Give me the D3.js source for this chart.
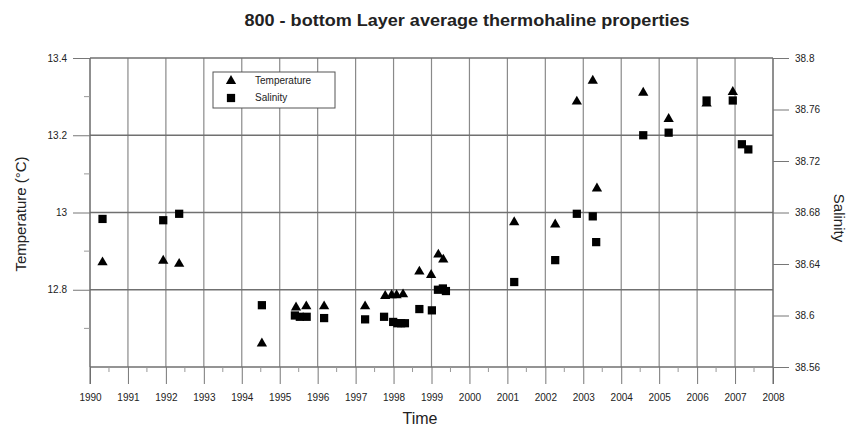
<!DOCTYPE html>
<html>
<head>
<meta charset="utf-8">
<script src="https://cdn.jsdelivr.net/npm/d3@7"></script>
<style>
  html, body { margin: 0; padding: 0; background: #fff; }
  #canvas { width: 849px; height: 429px; }
  text { font-family: "Liberation Sans", Arial, sans-serif; fill: #222; }
</style>
</head>
<body>
<div id="canvas"></div>
<script>
// Chart data
var tempYears = [1990.33, 1991.93, 1992.35, 1994.53, 1995.43, 1995.70, 1996.17, 1997.25,
  1997.78, 1997.95, 1998.08, 1998.25, 1998.68, 1998.99, 1999.18, 1999.31,
  2001.18, 2002.26, 2002.83, 2003.25, 2003.36, 2004.58, 2005.25, 2006.25, 2006.94];
var tempValues = [12.871, 12.875, 12.867, 12.661, 12.754, 12.757, 12.757, 12.757,
  12.784, 12.786, 12.786, 12.788, 12.847, 12.838, 12.891, 12.878,
  12.975, 12.969, 13.287, 13.341, 13.062, 13.310, 13.242, 13.282, 13.312];

var salYears = [1990.33, 1991.93, 1992.35, 1994.53, 1995.40, 1995.53, 1995.71, 1996.17,
  1997.25, 1997.75, 1997.99, 1998.10, 1998.20, 1998.30, 1998.68, 1999.01,
  1999.17, 1999.30, 1999.38, 2001.18, 2002.26, 2002.83, 2003.25, 2003.34,
  2004.58, 2005.25, 2006.25, 2006.94, 2007.18, 2007.35];
var salValues = [38.675, 38.674, 38.679, 38.608, 38.600, 38.599, 38.599, 38.598,
  38.597, 38.599, 38.595, 38.594, 38.594, 38.594, 38.605, 38.604,
  38.620, 38.621, 38.619, 38.626, 38.643, 38.679, 38.677, 38.657,
  38.740, 38.742, 38.767, 38.767, 38.733, 38.729];

var yearTicks = d3.range(1990, 2009);
var tempTicks = [12.8, 13, 13.2, 13.4];
var tempMinor = [12.7, 12.9, 13.1, 13.3];
var salTicks = [38.56, 38.6, 38.64, 38.68, 38.72, 38.76, 38.8];
var legendLabels = ['Temperature', 'Salinity'];

var margin = { left: 90, right: 773, top: 58, bottom: 367 };

var svg = d3.select('#canvas').append('svg')
  .attr('width', 849)
  .attr('height', 429);

var x = d3.scaleLinear().domain([1990, 2008]).range([margin.left, margin.right]);
var yT = d3.scaleLinear().domain([12.6, 13.4]).range([margin.bottom, margin.top]);
var yS = d3.scaleLinear().domain([38.56, 38.8]).range([margin.bottom, margin.top]);

// vertical year grid
svg.append('g')
  .selectAll('line')
  .data(yearTicks)
  .enter().append('line')
  .attr('x1', function(d) { return x(d); })
  .attr('x2', function(d) { return x(d); })
  .attr('y1', margin.top)
  .attr('y2', margin.bottom)
  .attr('stroke', '#8a8a8a')
  .attr('stroke-width', 1.2);

// horizontal grid at temperature ticks
svg.append('g')
  .selectAll('line')
  .data([12.6].concat(tempTicks))
  .enter().append('line')
  .attr('x1', margin.left)
  .attr('x2', margin.right)
  .attr('y1', function(d) { return yT(d); })
  .attr('y2', function(d) { return yT(d); })
  .attr('stroke', '#707070')
  .attr('stroke-width', 1.6);

// bottom axis
var xAxis = svg.append('g')
  .attr('transform', 'translate(0,' + margin.bottom + ')')
  .call(d3.axisBottom(x).tickValues(yearTicks).tickFormat(d3.format('d')).tickSize(17).tickPadding(10));
xAxis.select('.domain').remove();
xAxis.selectAll('line').attr('stroke', '#777');
xAxis.selectAll('text').attr('font-size', 10).attr('fill', '#333');

svg.append('g')
  .selectAll('line')
  .data(yearTicks.slice(0, -1))
  .enter().append('line')
  .attr('x1', function(d) { return x(d + 0.5); })
  .attr('x2', function(d) { return x(d + 0.5); })
  .attr('y1', margin.bottom)
  .attr('y2', margin.bottom + 5)
  .attr('stroke', '#999');

// left axis
var leftAxis = svg.append('g')
  .attr('transform', 'translate(' + margin.left + ',0)')
  .call(d3.axisLeft(yT).tickValues(tempTicks).tickFormat(d3.format('~g')).tickSize(17).tickPadding(6));
leftAxis.select('.domain').attr('stroke', '#666').attr('d', 'M0,' + margin.top + 'V' + (margin.bottom + 17));
leftAxis.selectAll('line').attr('stroke', '#777');
leftAxis.selectAll('text').attr('font-size', 10).attr('fill', '#333');

svg.append('g')
  .selectAll('line')
  .data(tempMinor)
  .enter().append('line')
  .attr('x1', margin.left - 6)
  .attr('x2', margin.left)
  .attr('y1', function(d) { return yT(d); })
  .attr('y2', function(d) { return yT(d); })
  .attr('stroke', '#999');

// right axis
var rightAxis = svg.append('g')
  .attr('transform', 'translate(' + margin.right + ',0)')
  .call(d3.axisRight(yS).tickValues(salTicks).tickFormat(d3.format('~g')).tickSize(16).tickPadding(6));
rightAxis.select('.domain').attr('stroke', '#666').attr('d', 'M0,' + margin.top + 'V' + (margin.bottom + 17));
rightAxis.selectAll('line').attr('stroke', '#777');
rightAxis.selectAll('text').attr('font-size', 10).attr('fill', '#333');

// markers
var tri = d3.symbol().type(d3.symbolTriangle).size(46);
var sq = d3.symbol().type(d3.symbolSquare).size(68);

svg.append('g')
  .selectAll('path')
  .data(salYears)
  .enter().append('path')
  .attr('d', sq)
  .attr('transform', function(d, i) { return 'translate(' + x(d) + ',' + yS(salValues[i]) + ')'; })
  .attr('fill', '#000');

svg.append('g')
  .selectAll('path')
  .data(tempYears)
  .enter().append('path')
  .attr('d', tri)
  .attr('transform', function(d, i) { return 'translate(' + x(d) + ',' + yT(tempValues[i]) + ')'; })
  .attr('fill', '#000');

// legend
var legend = svg.append('g');
legend.append('rect')
  .attr('x', 213).attr('y', 72).attr('width', 122).attr('height', 36)
  .attr('fill', '#fff').attr('stroke', '#555').attr('stroke-width', 1);
legend.append('path').attr('d', tri).attr('transform', 'translate(231,81)').attr('fill', '#000');
legend.append('path').attr('d', sq).attr('transform', 'translate(231,98)').attr('fill', '#000');
legend.selectAll('text')
  .data(legendLabels)
  .enter().append('text')
  .attr('x', 255)
  .attr('y', function(d, i) { return 84 + i * 17; })
  .attr('font-size', 10)
  .text(function(d) { return d; });

// titles
svg.append('text')
  .attr('x', 467).attr('y', 26)
  .attr('text-anchor', 'middle')
  .attr('font-size', 16)
  .attr('font-weight', 'bold')
  .attr('fill', '#111')
  .attr('textLength', 445)
  .attr('lengthAdjust', 'spacingAndGlyphs')
  .text('800 - bottom Layer average thermohaline properties');

svg.append('text')
  .attr('x', 420).attr('y', 424)
  .attr('text-anchor', 'middle')
  .attr('font-size', 16)
  .text('Time');

svg.append('text')
  .attr('transform', 'translate(26,214) rotate(-90)')
  .attr('text-anchor', 'middle')
  .attr('font-size', 15)
  .text('Temperature (°C)');

svg.append('text')
  .attr('transform', 'translate(834,218) rotate(90)')
  .attr('text-anchor', 'middle')
  .attr('font-size', 15)
  .text('Salinity');
</script>
</body>
</html>
